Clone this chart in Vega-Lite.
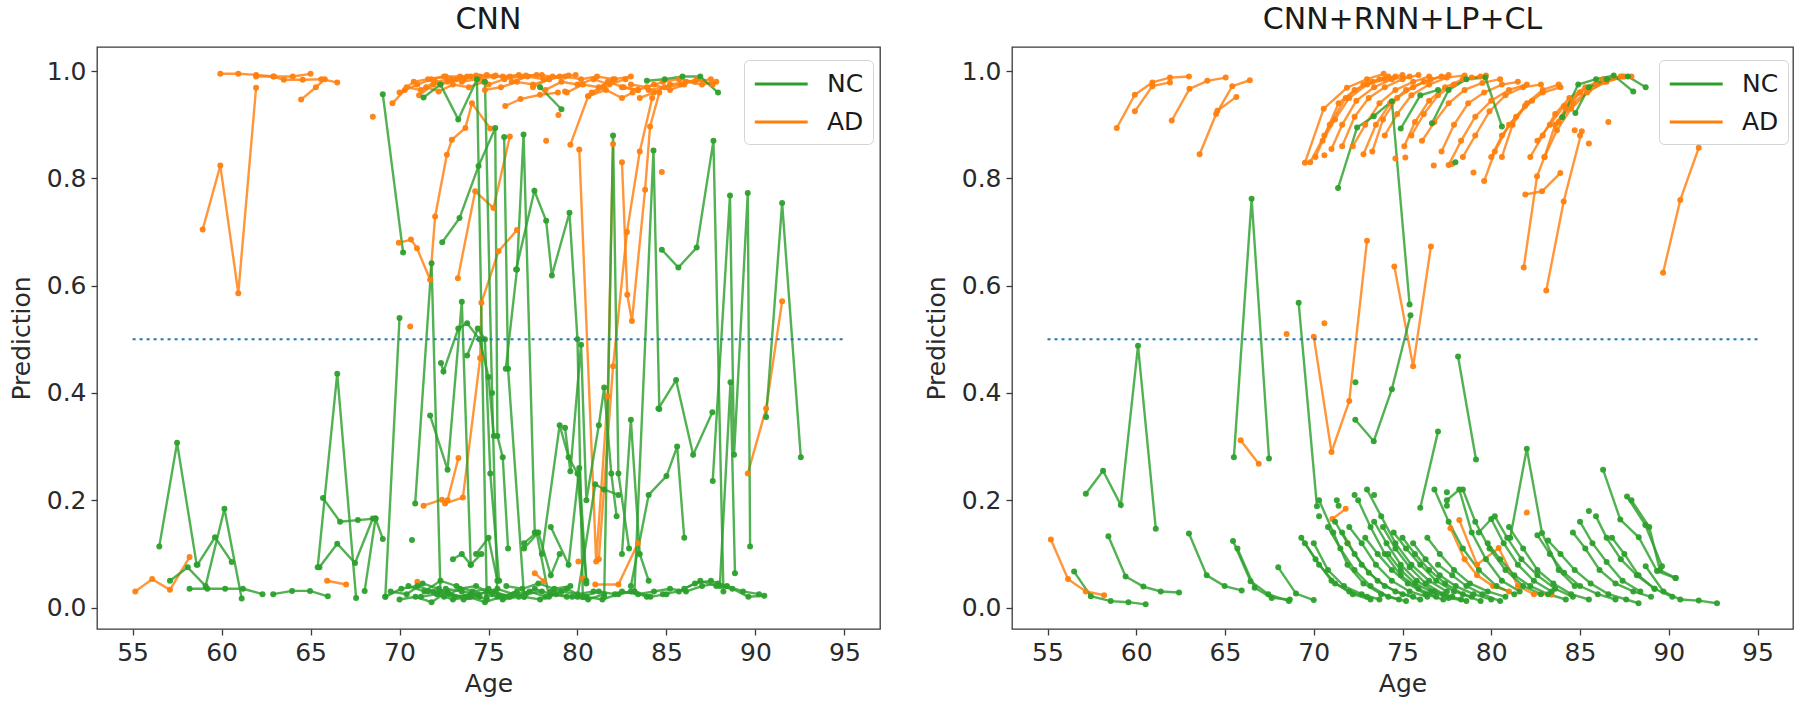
{
"$schema": "https://vega.github.io/schema/vega-lite/v6.json",
"background": "white",
"padding": {"left": 8, "top": 4, "right": 2, "bottom": 2},
"spacing": 42,
"config": {
  "font": "DejaVu Sans",
  "view": {"stroke": "#3a3a3a", "strokeWidth": 1.3},
  "axis": {"labelFontSize": 25, "titleFontSize": 25, "labelColor": "#2a2a2a", "titleColor": "#2a2a2a", "tickColor": "#3a3a3a", "tickWidth": 1.3, "domain": false, "grid": false, "tickSize": 6, "labelPadding": 5, "titleFontWeight": "normal", "labelFont": "DejaVu Sans", "titleFont": "DejaVu Sans"},
  "axisX": {"titlePadding": 6},
  "axisY": {"titlePadding": 12},
  "title": {"fontSize": 30, "fontWeight": "normal", "color": "#1a1a1a", "font": "DejaVu Sans", "offset": 12, "anchor": "middle"},
  "legend": {"orient": "none", "legendX": 647, "legendY": 13, "symbolType": "M-1,0H3", "symbolSize": 700, "symbolStrokeWidth": 3, "labelFontSize": 25, "labelFont": "DejaVu Sans", "labelColor": "#1a1a1a", "fillColor": "white", "strokeColor": "#d4d4d4", "cornerRadius": 5, "padding": 9, "rowPadding": 10, "labelOffset": 44, "symbolOpacity": 1}
},
"resolve": {"legend": {"color": "independent"}, "scale": {"color": "independent"}},
"datasets": {
"cnn": [
{"s":"a1","g":"AD","x":58.94,"y":0.705},{"s":"a1","g":"AD","x":59.93,"y":0.824},{"s":"a1","g":"AD","x":60.94,"y":0.586},{"s":"a1","g":"AD","x":61.94,"y":0.969},
{"s":"a2","g":"AD","x":59.93,"y":0.995},{"s":"a2","g":"AD","x":60.94,"y":0.995},{"s":"a2","g":"AD","x":61.94,"y":0.993},{"s":"a2","g":"AD","x":62.95,"y":0.99},{"s":"a2","g":"AD","x":64.0,"y":0.99},{"s":"a2","g":"AD","x":65.0,"y":0.995},
{"s":"a3","g":"AD","x":61.94,"y":0.99},{"s":"a3","g":"AD","x":62.9,"y":0.99},{"s":"a3","g":"AD","x":63.5,"y":0.984},{"s":"a3","g":"AD","x":64.56,"y":0.984},{"s":"a3","g":"AD","x":65.6,"y":0.985},{"s":"a3","g":"AD","x":66.5,"y":0.979},
{"s":"a4","g":"AD","x":64.47,"y":0.947},{"s":"a4","g":"AD","x":65.3,"y":0.97},{"s":"a4","g":"AD","x":65.8,"y":0.985},
{"s":"a5","g":"AD","x":55.15,"y":0.03},{"s":"a5","g":"AD","x":56.1,"y":0.053},{"s":"a5","g":"AD","x":57.1,"y":0.033},{"s":"a5","g":"AD","x":58.2,"y":0.094},
{"s":"a6","g":"AD","x":65.93,"y":0.05},{"s":"a6","g":"AD","x":67.0,"y":0.043},
{"s":"a7","g":"AD","x":68.5,"y":0.915},
{"s":"a8","g":"AD","x":70.6,"y":0.524},
{"s":"a9","g":"AD","x":69.96,"y":0.68},{"s":"a9","g":"AD","x":70.64,"y":0.686},{"s":"a9","g":"AD","x":70.98,"y":0.67},{"s":"a9","g":"AD","x":71.72,"y":0.611},{"s":"a9","g":"AD","x":72.0,"y":0.729},{"s":"a9","g":"AD","x":72.66,"y":0.844},{"s":"a9","g":"AD","x":72.94,"y":0.872},{"s":"a9","g":"AD","x":73.7,"y":0.894},{"s":"a9","g":"AD","x":74.07,"y":0.94},{"s":"a9","g":"AD","x":75.1,"y":0.893},
{"s":"a10","g":"AD","x":73.28,"y":0.614},{"s":"a10","g":"AD","x":74.25,"y":0.776},{"s":"a10","g":"AD","x":75.28,"y":0.745},{"s":"a10","g":"AD","x":76.2,"y":0.878},
{"s":"a11","g":"AD","x":71.35,"y":0.19},{"s":"a11","g":"AD","x":72.38,"y":0.201},{"s":"a11","g":"AD","x":72.56,"y":0.194},{"s":"a11","g":"AD","x":73.56,"y":0.205},{"s":"a11","g":"AD","x":74.53,"y":0.465},{"s":"a11","g":"AD","x":74.6,"y":0.568},{"s":"a11","g":"AD","x":75.56,"y":0.664},{"s":"a11","g":"AD","x":76.6,"y":0.704},
{"s":"a12","g":"AD","x":72.7,"y":0.2},{"s":"a12","g":"AD","x":73.31,"y":0.279},
{"s":"a13","g":"AD","x":80.1,"y":0.854},{"s":"a13","g":"AD","x":81.05,"y":0.086},{"s":"a13","g":"AD","x":81.7,"y":0.394},{"s":"a13","g":"AD","x":82.0,"y":0.864},
{"s":"a14","g":"AD","x":79.6,"y":0.863},{"s":"a14","g":"AD","x":80.6,"y":0.953},{"s":"a14","g":"AD","x":81.5,"y":0.97},
{"s":"a15","g":"AD","x":81.2,"y":0.09},{"s":"a15","g":"AD","x":82.0,"y":0.45},{"s":"a15","g":"AD","x":82.78,"y":0.7},{"s":"a15","g":"AD","x":83.5,"y":0.85},{"s":"a15","g":"AD","x":84.2,"y":0.95},
{"s":"a16","g":"AD","x":82.5,"y":0.83},{"s":"a16","g":"AD","x":82.8,"y":0.583},{"s":"a16","g":"AD","x":83.06,"y":0.534},{"s":"a16","g":"AD","x":83.8,"y":0.779},{"s":"a16","g":"AD","x":84.08,"y":0.897},{"s":"a16","g":"AD","x":84.6,"y":0.96},
{"s":"a17","g":"AD","x":89.57,"y":0.25},{"s":"a17","g":"AD","x":90.6,"y":0.371},{"s":"a17","g":"AD","x":91.5,"y":0.571},
{"s":"a18","g":"AD","x":81.0,"y":0.043},{"s":"a18","g":"AD","x":82.3,"y":0.043},{"s":"a18","g":"AD","x":83.4,"y":0.12},
{"s":"a19","g":"AD","x":77.6,"y":0.064},{"s":"a19","g":"AD","x":78.1,"y":0.049},
{"s":"a20","g":"AD","x":71.0,"y":0.048},
{"s":"a21","g":"AD","x":80.05,"y":0.086},
{"s":"a22","g":"AD","x":80.3,"y":0.054},
{"s":"a23","g":"AD","x":78.24,"y":0.87},
{"s":"a24","g":"AD","x":78.93,"y":0.918},
{"s":"a25","g":"AD","x":84.74,"y":0.812},
{"s":"a26","g":"AD","x":79.3,"y":0.962},
{"s":"t1","g":"AD","x":69.6,"y":0.94},{"s":"t1","g":"AD","x":70.3,"y":0.965},{"s":"t1","g":"AD","x":71.0,"y":0.975},{"s":"t1","g":"AD","x":71.8,"y":0.985},{"s":"t1","g":"AD","x":72.6,"y":0.99},
{"s":"t2","g":"AD","x":70.0,"y":0.96},{"s":"t2","g":"AD","x":70.8,"y":0.98},{"s":"t2","g":"AD","x":71.6,"y":0.985},{"s":"t2","g":"AD","x":72.5,"y":0.99},{"s":"t2","g":"AD","x":73.4,"y":0.99},{"s":"t2","g":"AD","x":74.3,"y":0.992},
{"s":"t3","g":"AD","x":70.4,"y":0.97},{"s":"t3","g":"AD","x":71.2,"y":0.965},{"s":"t3","g":"AD","x":72.0,"y":0.98},{"s":"t3","g":"AD","x":72.9,"y":0.985},{"s":"t3","g":"AD","x":73.8,"y":0.99},
{"s":"t4","g":"AD","x":71.1,"y":0.955},{"s":"t4","g":"AD","x":71.9,"y":0.975},{"s":"t4","g":"AD","x":72.7,"y":0.98},{"s":"t4","g":"AD","x":73.6,"y":0.985},{"s":"t4","g":"AD","x":74.5,"y":0.99},{"s":"t4","g":"AD","x":75.4,"y":0.992},
{"s":"t5","g":"AD","x":72.3,"y":0.975},{"s":"t5","g":"AD","x":73.2,"y":0.985},{"s":"t5","g":"AD","x":74.0,"y":0.99},{"s":"t5","g":"AD","x":74.9,"y":0.993},{"s":"t5","g":"AD","x":75.8,"y":0.99},{"s":"t5","g":"AD","x":76.7,"y":0.993},
{"s":"t6","g":"AD","x":73.5,"y":0.98},{"s":"t6","g":"AD","x":74.4,"y":0.985},{"s":"t6","g":"AD","x":75.3,"y":0.99},{"s":"t6","g":"AD","x":76.2,"y":0.99},{"s":"t6","g":"AD","x":77.1,"y":0.992},{"s":"t6","g":"AD","x":78.0,"y":0.993},
{"s":"t7","g":"AD","x":75.0,"y":0.975},{"s":"t7","g":"AD","x":75.9,"y":0.985},{"s":"t7","g":"AD","x":76.8,"y":0.99},{"s":"t7","g":"AD","x":77.7,"y":0.993},{"s":"t7","g":"AD","x":78.6,"y":0.99},{"s":"t7","g":"AD","x":79.5,"y":0.992},
{"s":"t8","g":"AD","x":76.3,"y":0.98},{"s":"t8","g":"AD","x":77.2,"y":0.99},{"s":"t8","g":"AD","x":78.1,"y":0.985},{"s":"t8","g":"AD","x":79.0,"y":0.99},{"s":"t8","g":"AD","x":79.9,"y":0.993},
{"s":"t9","g":"AD","x":77.5,"y":0.97},{"s":"t9","g":"AD","x":78.4,"y":0.985},{"s":"t9","g":"AD","x":79.3,"y":0.99},{"s":"t9","g":"AD","x":80.2,"y":0.985},{"s":"t9","g":"AD","x":81.1,"y":0.99},{"s":"t9","g":"AD","x":82.0,"y":0.985},
{"s":"t10","g":"AD","x":78.2,"y":0.965},{"s":"t10","g":"AD","x":79.1,"y":0.98},{"s":"t10","g":"AD","x":80.0,"y":0.975},{"s":"t10","g":"AD","x":80.9,"y":0.985},{"s":"t10","g":"AD","x":81.8,"y":0.975},{"s":"t10","g":"AD","x":82.7,"y":0.985},
{"s":"t11","g":"AD","x":79.4,"y":0.96},{"s":"t11","g":"AD","x":80.3,"y":0.975},{"s":"t11","g":"AD","x":81.2,"y":0.97},{"s":"t11","g":"AD","x":82.1,"y":0.985},{"s":"t11","g":"AD","x":83.0,"y":0.99},
{"s":"t12","g":"AD","x":74.8,"y":0.965},{"s":"t12","g":"AD","x":75.7,"y":0.97},{"s":"t12","g":"AD","x":76.6,"y":0.98},{"s":"t12","g":"AD","x":77.5,"y":0.975},{"s":"t12","g":"AD","x":78.4,"y":0.985},
{"s":"t13","g":"AD","x":71.5,"y":0.97},{"s":"t13","g":"AD","x":72.2,"y":0.962},{"s":"t13","g":"AD","x":73.0,"y":0.975},{"s":"t13","g":"AD","x":73.9,"y":0.97},{"s":"t13","g":"AD","x":74.7,"y":0.98},
{"s":"t14","g":"AD","x":80.8,"y":0.96},{"s":"t14","g":"AD","x":81.7,"y":0.98},{"s":"t14","g":"AD","x":82.6,"y":0.97},{"s":"t14","g":"AD","x":83.4,"y":0.965},
{"s":"t15","g":"AD","x":75.94,"y":0.935},{"s":"t15","g":"AD","x":76.8,"y":0.948},{"s":"t15","g":"AD","x":77.9,"y":0.956},{"s":"t15","g":"AD","x":78.9,"y":0.96},
{"s":"t16","g":"AD","x":80.6,"y":0.953},{"s":"t16","g":"AD","x":81.6,"y":0.965},{"s":"t16","g":"AD","x":82.5,"y":0.95},{"s":"t16","g":"AD","x":83.1,"y":0.96},
{"s":"u1","g":"AD","x":83.0,"y":0.975},{"s":"u1","g":"AD","x":83.9,"y":0.97},{"s":"u1","g":"AD","x":84.8,"y":0.98},{"s":"u1","g":"AD","x":85.7,"y":0.985},{"s":"u1","g":"AD","x":86.6,"y":0.98},{"s":"u1","g":"AD","x":87.5,"y":0.985},
{"s":"u2","g":"AD","x":83.5,"y":0.95},{"s":"u2","g":"AD","x":84.3,"y":0.96},{"s":"u2","g":"AD","x":85.2,"y":0.975},{"s":"u2","g":"AD","x":86.1,"y":0.98},{"s":"u2","g":"AD","x":87.0,"y":0.975},{"s":"u2","g":"AD","x":87.8,"y":0.98},
{"s":"u3","g":"AD","x":84.0,"y":0.965},{"s":"u3","g":"AD","x":84.9,"y":0.97},{"s":"u3","g":"AD","x":85.8,"y":0.975},{"s":"u3","g":"AD","x":86.7,"y":0.985},{"s":"u3","g":"AD","x":87.6,"y":0.975},
{"s":"u4","g":"AD","x":82.5,"y":0.97},{"s":"u4","g":"AD","x":83.4,"y":0.965},{"s":"u4","g":"AD","x":84.3,"y":0.975},{"s":"u4","g":"AD","x":85.2,"y":0.965},{"s":"u4","g":"AD","x":86.0,"y":0.975},
{"s":"g1","g":"NC","x":56.5,"y":0.114},{"s":"g1","g":"NC","x":57.5,"y":0.307},{"s":"g1","g":"NC","x":58.6,"y":0.08},
{"s":"g2","g":"NC","x":57.1,"y":0.05},{"s":"g2","g":"NC","x":58.1,"y":0.075},{"s":"g2","g":"NC","x":59.1,"y":0.04},{"s":"g2","g":"NC","x":60.16,"y":0.184},{"s":"g2","g":"NC","x":61.13,"y":0.017},
{"s":"g3","g":"NC","x":58.2,"y":0.035},{"s":"g3","g":"NC","x":59.2,"y":0.035},{"s":"g3","g":"NC","x":60.2,"y":0.035},{"s":"g3","g":"NC","x":61.2,"y":0.035},{"s":"g3","g":"NC","x":62.3,"y":0.025},
{"s":"g4","g":"NC","x":58.65,"y":0.08},{"s":"g4","g":"NC","x":59.63,"y":0.131},{"s":"g4","g":"NC","x":60.57,"y":0.085},
{"s":"g5","g":"NC","x":62.9,"y":0.025},{"s":"g5","g":"NC","x":63.96,"y":0.031},{"s":"g5","g":"NC","x":64.97,"y":0.031},{"s":"g5","g":"NC","x":65.97,"y":0.021},
{"s":"g6","g":"NC","x":65.7,"y":0.204},{"s":"g6","g":"NC","x":66.66,"y":0.16},{"s":"g6","g":"NC","x":67.66,"y":0.163},{"s":"g6","g":"NC","x":68.65,"y":0.166},{"s":"g6","g":"NC","x":69.06,"y":0.128},
{"s":"g7","g":"NC","x":65.4,"y":0.075},{"s":"g7","g":"NC","x":66.5,"y":0.436},{"s":"g7","g":"NC","x":67.56,"y":0.018},
{"s":"g8","g":"NC","x":65.5,"y":0.075},{"s":"g8","g":"NC","x":66.5,"y":0.119},{"s":"g8","g":"NC","x":67.5,"y":0.083},{"s":"g8","g":"NC","x":68.5,"y":0.166},
{"s":"g9","g":"NC","x":68.04,"y":0.031},{"s":"g9","g":"NC","x":68.65,"y":0.166},
{"s":"g10","g":"NC","x":69.06,"y":0.957},{"s":"g10","g":"NC","x":70.2,"y":0.662},
{"s":"g11","g":"NC","x":69.2,"y":0.02},{"s":"g11","g":"NC","x":70.0,"y":0.54},
{"s":"g12","g":"NC","x":70.7,"y":0.126},
{"s":"g13","g":"NC","x":70.88,"y":0.194},{"s":"g13","g":"NC","x":71.8,"y":0.642},{"s":"g13","g":"NC","x":72.3,"y":0.03},
{"s":"g14","g":"NC","x":71.35,"y":0.951},{"s":"g14","g":"NC","x":72.3,"y":0.975},{"s":"g14","g":"NC","x":73.3,"y":0.91},{"s":"g14","g":"NC","x":74.35,"y":0.985},{"s":"g14","g":"NC","x":74.9,"y":0.02},
{"s":"g15","g":"NC","x":72.4,"y":0.681},{"s":"g15","g":"NC","x":73.37,"y":0.726},{"s":"g15","g":"NC","x":74.44,"y":0.823},{"s":"g15","g":"NC","x":75.38,"y":0.894},{"s":"g15","g":"NC","x":75.5,"y":0.32},{"s":"g15","g":"NC","x":75.8,"y":0.28},{"s":"g15","g":"NC","x":76.1,"y":0.11},
{"s":"g16","g":"NC","x":71.72,"y":0.358},{"s":"g16","g":"NC","x":72.7,"y":0.257},{"s":"g16","g":"NC","x":73.5,"y":0.57},{"s":"g16","g":"NC","x":74.0,"y":0.08},
{"s":"g17","g":"NC","x":72.33,"y":0.456},{"s":"g17","g":"NC","x":72.47,"y":0.44},{"s":"g17","g":"NC","x":73.3,"y":0.52},{"s":"g17","g":"NC","x":73.8,"y":0.53},{"s":"g17","g":"NC","x":74.5,"y":0.5},{"s":"g17","g":"NC","x":75.0,"y":0.43},{"s":"g17","g":"NC","x":75.3,"y":0.32},
{"s":"g18","g":"NC","x":75.88,"y":0.877},{"s":"g18","g":"NC","x":76.1,"y":0.445},{"s":"g18","g":"NC","x":77.0,"y":0.02},
{"s":"g19","g":"NC","x":75.97,"y":0.445},{"s":"g19","g":"NC","x":76.6,"y":0.63},{"s":"g19","g":"NC","x":76.97,"y":0.882},{"s":"g19","g":"NC","x":77.6,"y":0.14},
{"s":"g20","g":"NC","x":76.55,"y":0.63},{"s":"g20","g":"NC","x":77.58,"y":0.777},{"s":"g20","g":"NC","x":78.24,"y":0.721},{"s":"g20","g":"NC","x":78.56,"y":0.619},{"s":"g20","g":"NC","x":79.55,"y":0.736},{"s":"g20","g":"NC","x":80.0,"y":0.5},{"s":"g20","g":"NC","x":80.3,"y":0.02},
{"s":"g21","g":"NC","x":77.0,"y":0.12},{"s":"g21","g":"NC","x":77.7,"y":0.14},{"s":"g21","g":"NC","x":78.4,"y":0.02},
{"s":"g22","g":"NC","x":79.3,"y":0.335},{"s":"g22","g":"NC","x":79.6,"y":0.254},{"s":"g22","g":"NC","x":80.2,"y":0.49},{"s":"g22","g":"NC","x":80.5,"y":0.2},{"s":"g22","g":"NC","x":81.2,"y":0.34},{"s":"g22","g":"NC","x":81.5,"y":0.41},{"s":"g22","g":"NC","x":81.9,"y":0.25},{"s":"g22","g":"NC","x":82.2,"y":0.17},
{"s":"g23","g":"NC","x":81.5,"y":0.02},{"s":"g23","g":"NC","x":82.0,"y":0.88},{"s":"g23","g":"NC","x":82.3,"y":0.25},{"s":"g23","g":"NC","x":82.9,"y":0.11},
{"s":"g24","g":"NC","x":83.2,"y":0.03},{"s":"g24","g":"NC","x":84.27,"y":0.852},{"s":"g24","g":"NC","x":84.6,"y":0.37},
{"s":"g25","g":"NC","x":84.74,"y":0.667},{"s":"g25","g":"NC","x":85.67,"y":0.634},{"s":"g25","g":"NC","x":86.7,"y":0.671},{"s":"g25","g":"NC","x":87.64,"y":0.87},{"s":"g25","g":"NC","x":88.2,"y":0.03},
{"s":"g26","g":"NC","x":84.55,"y":0.371},{"s":"g26","g":"NC","x":85.54,"y":0.424},{"s":"g26","g":"NC","x":86.5,"y":0.285},{"s":"g26","g":"NC","x":87.58,"y":0.364},
{"s":"g27","g":"NC","x":87.6,"y":0.236},{"s":"g27","g":"NC","x":88.57,"y":0.768},{"s":"g27","g":"NC","x":88.8,"y":0.285},{"s":"g27","g":"NC","x":89.57,"y":0.773},{"s":"g27","g":"NC","x":89.7,"y":0.114},
{"s":"g28","g":"NC","x":88.0,"y":0.04},{"s":"g28","g":"NC","x":88.6,"y":0.42},{"s":"g28","g":"NC","x":88.85,"y":0.064},
{"s":"g29","g":"NC","x":90.6,"y":0.355},{"s":"g29","g":"NC","x":91.5,"y":0.754},{"s":"g29","g":"NC","x":92.55,"y":0.28},
{"s":"g30","g":"NC","x":83.0,"y":0.04},{"s":"g30","g":"NC","x":84.0,"y":0.21},{"s":"g30","g":"NC","x":85.0,"y":0.245},{"s":"g30","g":"NC","x":85.6,"y":0.3},{"s":"g30","g":"NC","x":86.0,"y":0.13},
{"s":"g31","g":"NC","x":80.0,"y":0.02},{"s":"g31","g":"NC","x":81.0,"y":0.23},{"s":"g31","g":"NC","x":81.5,"y":0.22},{"s":"g31","g":"NC","x":82.3,"y":0.21},
{"s":"g32","g":"NC","x":78.0,"y":0.1},{"s":"g32","g":"NC","x":79.0,"y":0.34},{"s":"g32","g":"NC","x":79.5,"y":0.28},{"s":"g32","g":"NC","x":80.0,"y":0.25},{"s":"g32","g":"NC","x":80.5,"y":0.05},
{"s":"g33","g":"NC","x":74.3,"y":0.1},{"s":"g33","g":"NC","x":75.0,"y":0.13},{"s":"g33","g":"NC","x":75.5,"y":0.05},
{"s":"g34","g":"NC","x":73.0,"y":0.09},{"s":"g34","g":"NC","x":73.5,"y":0.1},{"s":"g34","g":"NC","x":74.0,"y":0.08},{"s":"g34","g":"NC","x":74.6,"y":0.1},
{"s":"g35","g":"NC","x":77.9,"y":0.97},{"s":"g35","g":"NC","x":79.1,"y":0.929},
{"s":"g36","g":"NC","x":83.9,"y":0.982},{"s":"g36","g":"NC","x":84.9,"y":0.985},{"s":"g36","g":"NC","x":85.9,"y":0.99},{"s":"g36","g":"NC","x":86.9,"y":0.99},{"s":"g36","g":"NC","x":87.9,"y":0.96},
{"s":"g38","g":"NC","x":74.8,"y":0.98},{"s":"g38","g":"NC","x":75.2,"y":0.4},{"s":"g38","g":"NC","x":75.5,"y":0.02},
{"s":"g39","g":"NC","x":73.8,"y":0.47},{"s":"g39","g":"NC","x":74.4,"y":0.52},{"s":"g39","g":"NC","x":74.8,"y":0.5},{"s":"g39","g":"NC","x":75.1,"y":0.25},{"s":"g39","g":"NC","x":75.6,"y":0.05},
{"s":"g40","g":"NC","x":78.5,"y":0.15},{"s":"g40","g":"NC","x":79.5,"y":0.08},{"s":"g40","g":"NC","x":80.1,"y":0.26},{"s":"g40","g":"NC","x":80.5,"y":0.045},
{"s":"g41","g":"NC","x":77.0,"y":0.11},{"s":"g41","g":"NC","x":77.8,"y":0.14},{"s":"g41","g":"NC","x":78.5,"y":0.06},{"s":"g41","g":"NC","x":79.0,"y":0.1},
{"s":"g42","g":"NC","x":82.5,"y":0.1},{"s":"g42","g":"NC","x":83.0,"y":0.35},{"s":"g42","g":"NC","x":83.5,"y":0.1},{"s":"g42","g":"NC","x":84.0,"y":0.05},
{"s":"z1","g":"NC","x":69.2,"y":0.02},{"s":"z1","g":"NC","x":70.1,"y":0.035},{"s":"z1","g":"NC","x":71.0,"y":0.04},{"s":"z1","g":"NC","x":71.9,"y":0.03},{"s":"z1","g":"NC","x":72.8,"y":0.025},{"s":"z1","g":"NC","x":73.7,"y":0.02},
{"s":"z2","g":"NC","x":69.5,"y":0.03},{"s":"z2","g":"NC","x":70.4,"y":0.025},{"s":"z2","g":"NC","x":71.3,"y":0.045},{"s":"z2","g":"NC","x":72.2,"y":0.035},{"s":"z2","g":"NC","x":73.1,"y":0.02},{"s":"z2","g":"NC","x":74.0,"y":0.025},{"s":"z2","g":"NC","x":74.9,"y":0.015},
{"s":"z3","g":"NC","x":70.0,"y":0.015},{"s":"z3","g":"NC","x":70.9,"y":0.02},{"s":"z3","g":"NC","x":71.8,"y":0.01},{"s":"z3","g":"NC","x":72.7,"y":0.03},{"s":"z3","g":"NC","x":73.6,"y":0.015},{"s":"z3","g":"NC","x":74.5,"y":0.02},
{"s":"z4","g":"NC","x":70.5,"y":0.04},{"s":"z4","g":"NC","x":71.4,"y":0.03},{"s":"z4","g":"NC","x":72.3,"y":0.05},{"s":"z4","g":"NC","x":73.2,"y":0.04},{"s":"z4","g":"NC","x":74.1,"y":0.03},{"s":"z4","g":"NC","x":75.0,"y":0.035},{"s":"z4","g":"NC","x":75.9,"y":0.02},
{"s":"z5","g":"NC","x":71.2,"y":0.02},{"s":"z5","g":"NC","x":72.1,"y":0.025},{"s":"z5","g":"NC","x":73.0,"y":0.015},{"s":"z5","g":"NC","x":73.9,"y":0.02},{"s":"z5","g":"NC","x":74.8,"y":0.01},{"s":"z5","g":"NC","x":75.7,"y":0.02},{"s":"z5","g":"NC","x":76.6,"y":0.03},
{"s":"z6","g":"NC","x":72.6,"y":0.035},{"s":"z6","g":"NC","x":73.5,"y":0.03},{"s":"z6","g":"NC","x":74.4,"y":0.025},{"s":"z6","g":"NC","x":75.3,"y":0.03},{"s":"z6","g":"NC","x":76.2,"y":0.02},{"s":"z6","g":"NC","x":77.1,"y":0.025},{"s":"z6","g":"NC","x":78.0,"y":0.03},
{"s":"z7","g":"NC","x":74.0,"y":0.02},{"s":"z7","g":"NC","x":74.9,"y":0.03},{"s":"z7","g":"NC","x":75.8,"y":0.015},{"s":"z7","g":"NC","x":76.7,"y":0.02},{"s":"z7","g":"NC","x":77.6,"y":0.035},{"s":"z7","g":"NC","x":78.5,"y":0.025},{"s":"z7","g":"NC","x":79.4,"y":0.02},
{"s":"z8","g":"NC","x":75.5,"y":0.035},{"s":"z8","g":"NC","x":76.4,"y":0.025},{"s":"z8","g":"NC","x":77.3,"y":0.03},{"s":"z8","g":"NC","x":78.2,"y":0.02},{"s":"z8","g":"NC","x":79.1,"y":0.03},{"s":"z8","g":"NC","x":80.0,"y":0.025},{"s":"z8","g":"NC","x":80.9,"y":0.03},
{"s":"z9","g":"NC","x":77.0,"y":0.02},{"s":"z9","g":"NC","x":77.9,"y":0.015},{"s":"z9","g":"NC","x":78.8,"y":0.025},{"s":"z9","g":"NC","x":79.7,"y":0.02},{"s":"z9","g":"NC","x":80.6,"y":0.015},{"s":"z9","g":"NC","x":81.5,"y":0.025},
{"s":"z10","g":"NC","x":78.5,"y":0.03},{"s":"z10","g":"NC","x":79.4,"y":0.035},{"s":"z10","g":"NC","x":80.3,"y":0.02},{"s":"z10","g":"NC","x":81.2,"y":0.03},{"s":"z10","g":"NC","x":82.1,"y":0.025},{"s":"z10","g":"NC","x":83.0,"y":0.03},{"s":"z10","g":"NC","x":83.9,"y":0.02},
{"s":"z11","g":"NC","x":80.5,"y":0.02},{"s":"z11","g":"NC","x":81.4,"y":0.015},{"s":"z11","g":"NC","x":82.3,"y":0.025},{"s":"z11","g":"NC","x":83.2,"y":0.03},{"s":"z11","g":"NC","x":84.1,"y":0.02},{"s":"z11","g":"NC","x":85.0,"y":0.025},
{"s":"z12","g":"NC","x":82.5,"y":0.03},{"s":"z12","g":"NC","x":83.4,"y":0.025},{"s":"z12","g":"NC","x":84.3,"y":0.03},{"s":"z12","g":"NC","x":85.2,"y":0.035},{"s":"z12","g":"NC","x":86.1,"y":0.03},{"s":"z12","g":"NC","x":87.0,"y":0.04},{"s":"z12","g":"NC","x":87.9,"y":0.045},
{"s":"z13","g":"NC","x":84.8,"y":0.025},{"s":"z13","g":"NC","x":85.7,"y":0.03},{"s":"z13","g":"NC","x":86.6,"y":0.045},{"s":"z13","g":"NC","x":87.5,"y":0.05},{"s":"z13","g":"NC","x":88.4,"y":0.04},{"s":"z13","g":"NC","x":89.3,"y":0.03},{"s":"z13","g":"NC","x":90.2,"y":0.025},
{"s":"z14","g":"NC","x":86.0,"y":0.035},{"s":"z14","g":"NC","x":86.9,"y":0.05},{"s":"z14","g":"NC","x":87.8,"y":0.04},{"s":"z14","g":"NC","x":88.7,"y":0.035},{"s":"z14","g":"NC","x":89.6,"y":0.02},{"s":"z14","g":"NC","x":90.5,"y":0.022},
{"s":"z15","g":"NC","x":71.6,"y":0.03},{"s":"z15","g":"NC","x":72.5,"y":0.02},{"s":"z15","g":"NC","x":73.4,"y":0.035},{"s":"z15","g":"NC","x":74.3,"y":0.04},{"s":"z15","g":"NC","x":75.2,"y":0.025},
{"s":"z16","g":"NC","x":76.0,"y":0.04},{"s":"z16","g":"NC","x":76.9,"y":0.035},{"s":"z16","g":"NC","x":77.8,"y":0.045},{"s":"z16","g":"NC","x":78.7,"y":0.035},{"s":"z16","g":"NC","x":79.6,"y":0.04}
],
"full": [
{"s":"b1","g":"AD","x":58.9,"y":0.894},{"s":"b1","g":"AD","x":59.92,"y":0.956},{"s":"b1","g":"AD","x":60.91,"y":0.979},{"s":"b1","g":"AD","x":61.9,"y":0.988},{"s":"b1","g":"AD","x":62.97,"y":0.99},
{"s":"b2","g":"AD","x":59.92,"y":0.925},{"s":"b2","g":"AD","x":60.91,"y":0.972},{"s":"b2","g":"AD","x":61.9,"y":0.979},
{"s":"b3","g":"AD","x":62.0,"y":0.908},{"s":"b3","g":"AD","x":63.0,"y":0.967},{"s":"b3","g":"AD","x":64.0,"y":0.982},{"s":"b3","g":"AD","x":65.04,"y":0.988},
{"s":"b4","g":"AD","x":63.57,"y":0.845},{"s":"b4","g":"AD","x":64.5,"y":0.92},{"s":"b4","g":"AD","x":65.41,"y":0.972},{"s":"b4","g":"AD","x":66.4,"y":0.983},
{"s":"b5","g":"AD","x":64.57,"y":0.926},{"s":"b5","g":"AD","x":65.64,"y":0.952},
{"s":"b6","g":"AD","x":55.19,"y":0.127},{"s":"b6","g":"AD","x":56.16,"y":0.053},{"s":"b6","g":"AD","x":57.16,"y":0.03},{"s":"b6","g":"AD","x":58.19,"y":0.023},
{"s":"b7","g":"AD","x":65.88,"y":0.312},{"s":"b7","g":"AD","x":66.9,"y":0.268},
{"s":"b8","g":"AD","x":68.47,"y":0.51},
{"s":"b9","g":"AD","x":70.0,"y":0.505},{"s":"b9","g":"AD","x":71.0,"y":0.29},{"s":"b9","g":"AD","x":72.0,"y":0.385},{"s":"b9","g":"AD","x":73.0,"y":0.684},
{"s":"b10","g":"AD","x":74.54,"y":0.636},{"s":"b10","g":"AD","x":75.6,"y":0.45},{"s":"b10","g":"AD","x":76.6,"y":0.673},
{"s":"b11","g":"AD","x":70.6,"y":0.53},
{"s":"b12","g":"AD","x":81.83,"y":0.634},{"s":"b12","g":"AD","x":82.58,"y":0.804},{"s":"b12","g":"AD","x":83.0,"y":0.84},{"s":"b12","g":"AD","x":83.6,"y":0.9},{"s":"b12","g":"AD","x":84.2,"y":0.93},{"s":"b12","g":"AD","x":85.0,"y":0.96},
{"s":"b13","g":"AD","x":81.92,"y":0.77},{"s":"b13","g":"AD","x":82.86,"y":0.776},{"s":"b13","g":"AD","x":83.89,"y":0.81},
{"s":"b14","g":"AD","x":83.1,"y":0.591},{"s":"b14","g":"AD","x":84.08,"y":0.757},{"s":"b14","g":"AD","x":85.1,"y":0.888},
{"s":"b15","g":"AD","x":89.68,"y":0.624},{"s":"b15","g":"AD","x":90.65,"y":0.76},{"s":"b15","g":"AD","x":91.69,"y":0.857},
{"s":"b16","g":"AD","x":77.7,"y":0.148},{"s":"b16","g":"AD","x":78.5,"y":0.09},{"s":"b16","g":"AD","x":79.2,"y":0.06},{"s":"b16","g":"AD","x":80.1,"y":0.04},{"s":"b16","g":"AD","x":81.0,"y":0.03},
{"s":"b17","g":"AD","x":78.2,"y":0.163},{"s":"b17","g":"AD","x":79.2,"y":0.08},{"s":"b17","g":"AD","x":80.42,"y":0.111},{"s":"b17","g":"AD","x":81.5,"y":0.04},{"s":"b17","g":"AD","x":82.4,"y":0.025},{"s":"b17","g":"AD","x":83.4,"y":0.024},
{"s":"b18","g":"AD","x":82.0,"y":0.177},
{"s":"b19","g":"AD","x":71.05,"y":0.165},{"s":"b19","g":"AD","x":71.8,"y":0.184},
{"s":"b20","g":"AD","x":71.9,"y":0.12},
{"s":"f1","g":"AD","x":69.5,"y":0.829},{"s":"f1","g":"AD","x":70.56,"y":0.93},{"s":"f1","g":"AD","x":71.87,"y":0.969},{"s":"f1","g":"AD","x":73.0,"y":0.985},{"s":"f1","g":"AD","x":73.94,"y":0.995},
{"s":"f2","g":"AD","x":69.8,"y":0.83},{"s":"f2","g":"AD","x":70.6,"y":0.88},{"s":"f2","g":"AD","x":71.4,"y":0.94},{"s":"f2","g":"AD","x":72.3,"y":0.965},{"s":"f2","g":"AD","x":73.3,"y":0.98},{"s":"f2","g":"AD","x":74.2,"y":0.99},
{"s":"f3","g":"AD","x":70.1,"y":0.84},{"s":"f3","g":"AD","x":70.9,"y":0.9},{"s":"f3","g":"AD","x":71.8,"y":0.95},{"s":"f3","g":"AD","x":72.8,"y":0.975},{"s":"f3","g":"AD","x":73.7,"y":0.985},{"s":"f3","g":"AD","x":74.6,"y":0.99},
{"s":"f4","g":"AD","x":70.5,"y":0.87},{"s":"f4","g":"AD","x":71.2,"y":0.91},{"s":"f4","g":"AD","x":72.0,"y":0.95},{"s":"f4","g":"AD","x":73.0,"y":0.975},{"s":"f4","g":"AD","x":74.0,"y":0.985},{"s":"f4","g":"AD","x":75.0,"y":0.993},
{"s":"f5","g":"AD","x":71.0,"y":0.855},{"s":"f5","g":"AD","x":71.6,"y":0.9},{"s":"f5","g":"AD","x":72.4,"y":0.945},{"s":"f5","g":"AD","x":73.4,"y":0.97},{"s":"f5","g":"AD","x":74.4,"y":0.985},{"s":"f5","g":"AD","x":75.4,"y":0.99},
{"s":"f6","g":"AD","x":71.6,"y":0.86},{"s":"f6","g":"AD","x":72.3,"y":0.915},{"s":"f6","g":"AD","x":73.1,"y":0.95},{"s":"f6","g":"AD","x":74.0,"y":0.97},{"s":"f6","g":"AD","x":75.0,"y":0.985},{"s":"f6","g":"AD","x":75.9,"y":0.993},
{"s":"f7","g":"AD","x":72.2,"y":0.86},{"s":"f7","g":"AD","x":72.9,"y":0.9},{"s":"f7","g":"AD","x":73.7,"y":0.94},{"s":"f7","g":"AD","x":74.6,"y":0.965},{"s":"f7","g":"AD","x":75.6,"y":0.98},{"s":"f7","g":"AD","x":76.5,"y":0.99},
{"s":"f8","g":"AD","x":72.8,"y":0.845},{"s":"f8","g":"AD","x":73.5,"y":0.9},{"s":"f8","g":"AD","x":74.3,"y":0.94},{"s":"f8","g":"AD","x":75.2,"y":0.965},{"s":"f8","g":"AD","x":76.2,"y":0.98},{"s":"f8","g":"AD","x":77.2,"y":0.99},
{"s":"f9","g":"AD","x":73.3,"y":0.85},{"s":"f9","g":"AD","x":73.9,"y":0.91},{"s":"f9","g":"AD","x":74.7,"y":0.95},{"s":"f9","g":"AD","x":75.6,"y":0.97},{"s":"f9","g":"AD","x":76.6,"y":0.985},{"s":"f9","g":"AD","x":77.6,"y":0.993},
{"s":"f10","g":"AD","x":74.0,"y":0.88},{"s":"f10","g":"AD","x":74.7,"y":0.92},{"s":"f10","g":"AD","x":75.5,"y":0.955},{"s":"f10","g":"AD","x":76.5,"y":0.975},{"s":"f10","g":"AD","x":77.5,"y":0.988},{"s":"f10","g":"AD","x":78.5,"y":0.992},
{"s":"f11","g":"AD","x":74.6,"y":0.837},
{"s":"f12","g":"AD","x":75.1,"y":0.86},{"s":"f12","g":"AD","x":75.7,"y":0.905},{"s":"f12","g":"AD","x":76.5,"y":0.945},{"s":"f12","g":"AD","x":77.4,"y":0.97},{"s":"f12","g":"AD","x":78.4,"y":0.985},{"s":"f12","g":"AD","x":79.4,"y":0.99},
{"s":"f13","g":"AD","x":75.5,"y":0.88},{"s":"f13","g":"AD","x":76.2,"y":0.92},{"s":"f13","g":"AD","x":77.0,"y":0.955},{"s":"f13","g":"AD","x":77.9,"y":0.975},{"s":"f13","g":"AD","x":78.9,"y":0.988},{"s":"f13","g":"AD","x":79.7,"y":0.992},
{"s":"f14","g":"AD","x":76.1,"y":0.87},{"s":"f14","g":"AD","x":76.8,"y":0.905},{"s":"f14","g":"AD","x":77.6,"y":0.94},{"s":"f14","g":"AD","x":78.5,"y":0.965},{"s":"f14","g":"AD","x":79.5,"y":0.978},{"s":"f14","g":"AD","x":80.5,"y":0.985},
{"s":"f15","g":"AD","x":77.2,"y":0.85},{"s":"f15","g":"AD","x":77.9,"y":0.9},{"s":"f15","g":"AD","x":78.7,"y":0.94},{"s":"f15","g":"AD","x":79.6,"y":0.96},{"s":"f15","g":"AD","x":80.6,"y":0.975},{"s":"f15","g":"AD","x":81.5,"y":0.98},
{"s":"f16","g":"AD","x":77.6,"y":0.825},{"s":"f16","g":"AD","x":78.3,"y":0.87},{"s":"f16","g":"AD","x":79.1,"y":0.915},{"s":"f16","g":"AD","x":80.0,"y":0.945},{"s":"f16","g":"AD","x":81.0,"y":0.965},{"s":"f16","g":"AD","x":82.0,"y":0.975},
{"s":"f17","g":"AD","x":78.4,"y":0.84},{"s":"f17","g":"AD","x":79.1,"y":0.88},{"s":"f17","g":"AD","x":79.9,"y":0.925},{"s":"f17","g":"AD","x":80.8,"y":0.955},{"s":"f17","g":"AD","x":81.8,"y":0.97},{"s":"f17","g":"AD","x":82.8,"y":0.975},
{"s":"f18","g":"AD","x":79.6,"y":0.795},{"s":"f18","g":"AD","x":80.2,"y":0.85},{"s":"f18","g":"AD","x":81.0,"y":0.9},{"s":"f18","g":"AD","x":81.9,"y":0.935},{"s":"f18","g":"AD","x":82.9,"y":0.96},{"s":"f18","g":"AD","x":83.9,"y":0.97},
{"s":"f19","g":"AD","x":80.0,"y":0.84},{"s":"f19","g":"AD","x":80.6,"y":0.88},{"s":"f19","g":"AD","x":81.4,"y":0.915},{"s":"f19","g":"AD","x":82.3,"y":0.945},
{"s":"f20","g":"AD","x":80.6,"y":0.84},{"s":"f20","g":"AD","x":81.2,"y":0.9},{"s":"f20","g":"AD","x":82.0,"y":0.94},{"s":"f20","g":"AD","x":82.9,"y":0.965},{"s":"f20","g":"AD","x":83.8,"y":0.975},
{"s":"fd1","g":"AD","x":75.16,"y":0.839},
{"s":"fd2","g":"AD","x":76.76,"y":0.824},
{"s":"fd3","g":"AD","x":77.79,"y":0.827},
{"s":"fd4","g":"AD","x":79.0,"y":0.811},
{"s":"fd5","g":"AD","x":70.6,"y":0.843},
{"s":"h1","g":"AD","x":82.2,"y":0.84},{"s":"h1","g":"AD","x":82.9,"y":0.88},{"s":"h1","g":"AD","x":83.6,"y":0.92},{"s":"h1","g":"AD","x":84.4,"y":0.95},{"s":"h1","g":"AD","x":85.3,"y":0.97},{"s":"h1","g":"AD","x":86.3,"y":0.985},{"s":"h1","g":"AD","x":87.3,"y":0.99},
{"s":"h2","g":"AD","x":82.6,"y":0.87},{"s":"h2","g":"AD","x":83.3,"y":0.9},{"s":"h2","g":"AD","x":84.1,"y":0.935},{"s":"h2","g":"AD","x":85.0,"y":0.96},{"s":"h2","g":"AD","x":85.9,"y":0.975},{"s":"h2","g":"AD","x":86.9,"y":0.988},{"s":"h2","g":"AD","x":87.9,"y":0.99},
{"s":"h3","g":"AD","x":83.0,"y":0.84},{"s":"h3","g":"AD","x":83.7,"y":0.89},{"s":"h3","g":"AD","x":84.5,"y":0.93},{"s":"h3","g":"AD","x":85.4,"y":0.96},{"s":"h3","g":"AD","x":86.4,"y":0.98},{"s":"h3","g":"AD","x":87.4,"y":0.99},
{"s":"h4","g":"AD","x":83.8,"y":0.905},{"s":"h4","g":"AD","x":84.6,"y":0.94},{"s":"h4","g":"AD","x":85.5,"y":0.965},{"s":"h4","g":"AD","x":86.5,"y":0.98},{"s":"h4","g":"AD","x":87.5,"y":0.99},
{"s":"hd1","g":"AD","x":84.7,"y":0.89},
{"s":"hd2","g":"AD","x":85.0,"y":0.88},
{"s":"hd3","g":"AD","x":85.5,"y":0.865},
{"s":"hd4","g":"AD","x":86.6,"y":0.905},
{"s":"c1","g":"NC","x":57.16,"y":0.212},{"s":"c1","g":"NC","x":58.13,"y":0.255},{"s":"c1","g":"NC","x":59.13,"y":0.191},{"s":"c1","g":"NC","x":60.1,"y":0.488},{"s":"c1","g":"NC","x":61.1,"y":0.147},
{"s":"c2","g":"NC","x":56.5,"y":0.067},{"s":"c2","g":"NC","x":57.44,"y":0.021},{"s":"c2","g":"NC","x":58.56,"y":0.012},{"s":"c2","g":"NC","x":59.56,"y":0.01},{"s":"c2","g":"NC","x":60.53,"y":0.006},
{"s":"c3","g":"NC","x":58.43,"y":0.133},{"s":"c3","g":"NC","x":59.4,"y":0.058},{"s":"c3","g":"NC","x":60.4,"y":0.039},{"s":"c3","g":"NC","x":61.38,"y":0.03},{"s":"c3","g":"NC","x":62.41,"y":0.028},
{"s":"c4","g":"NC","x":62.97,"y":0.138},{"s":"c4","g":"NC","x":63.97,"y":0.06},{"s":"c4","g":"NC","x":64.98,"y":0.04},{"s":"c4","g":"NC","x":65.94,"y":0.032},
{"s":"c5","g":"NC","x":65.45,"y":0.124},{"s":"c5","g":"NC","x":66.44,"y":0.049},{"s":"c5","g":"NC","x":67.44,"y":0.025},{"s":"c5","g":"NC","x":68.6,"y":0.012},
{"s":"c6","g":"NC","x":65.7,"y":0.11},{"s":"c6","g":"NC","x":66.67,"y":0.037},{"s":"c6","g":"NC","x":67.63,"y":0.018},{"s":"c6","g":"NC","x":68.65,"y":0.015},
{"s":"c7","g":"NC","x":65.5,"y":0.28},{"s":"c7","g":"NC","x":66.5,"y":0.762},{"s":"c7","g":"NC","x":67.48,"y":0.278},
{"s":"c8","g":"NC","x":68.0,"y":0.075},{"s":"c8","g":"NC","x":69.0,"y":0.026},{"s":"c8","g":"NC","x":70.0,"y":0.014},
{"s":"c9","g":"NC","x":69.15,"y":0.568},{"s":"c9","g":"NC","x":70.18,"y":0.189},
{"s":"c10","g":"NC","x":71.37,"y":0.782},{"s":"c10","g":"NC","x":72.44,"y":0.895},{"s":"c10","g":"NC","x":73.38,"y":0.916},{"s":"c10","g":"NC","x":74.4,"y":0.944},{"s":"c10","g":"NC","x":75.4,"y":0.565},
{"s":"c12","g":"NC","x":72.34,"y":0.35},{"s":"c12","g":"NC","x":73.38,"y":0.31},{"s":"c12","g":"NC","x":74.4,"y":0.407},{"s":"c12","g":"NC","x":75.45,"y":0.545},
{"s":"c13","g":"NC","x":72.35,"y":0.42},
{"s":"c14","g":"NC","x":74.9,"y":0.893},{"s":"c14","g":"NC","x":76.0,"y":0.955},{"s":"c14","g":"NC","x":77.0,"y":0.965},
{"s":"c15","g":"NC","x":76.66,"y":0.903},{"s":"c15","g":"NC","x":77.6,"y":0.965},{"s":"c15","g":"NC","x":78.6,"y":0.985},{"s":"c15","g":"NC","x":79.67,"y":0.988},{"s":"c15","g":"NC","x":80.6,"y":0.897},
{"s":"c16","g":"NC","x":77.98,"y":0.83},
{"s":"c17","g":"NC","x":76.0,"y":0.186},{"s":"c17","g":"NC","x":77.0,"y":0.328},
{"s":"c18","g":"NC","x":78.13,"y":0.468},{"s":"c18","g":"NC","x":79.14,"y":0.276},
{"s":"c19","g":"NC","x":84.0,"y":0.914},{"s":"c19","g":"NC","x":84.9,"y":0.975},{"s":"c19","g":"NC","x":85.9,"y":0.985},{"s":"c19","g":"NC","x":86.9,"y":0.992},{"s":"c19","g":"NC","x":88.0,"y":0.962},
{"s":"c20","g":"NC","x":84.74,"y":0.922},{"s":"c20","g":"NC","x":85.5,"y":0.97},{"s":"c20","g":"NC","x":86.5,"y":0.985},{"s":"c20","g":"NC","x":87.7,"y":0.99},{"s":"c20","g":"NC","x":88.7,"y":0.97},
{"s":"c21","g":"NC","x":81.07,"y":0.13},{"s":"c21","g":"NC","x":82.0,"y":0.296},{"s":"c21","g":"NC","x":82.86,"y":0.139},{"s":"c21","g":"NC","x":83.8,"y":0.07},{"s":"c21","g":"NC","x":84.7,"y":0.04},
{"s":"c22","g":"NC","x":86.3,"y":0.257},{"s":"c22","g":"NC","x":87.27,"y":0.164},{"s":"c22","g":"NC","x":88.31,"y":0.131},{"s":"c22","g":"NC","x":89.34,"y":0.068},{"s":"c22","g":"NC","x":90.37,"y":0.055},
{"s":"c23","g":"NC","x":87.65,"y":0.207},{"s":"c23","g":"NC","x":88.68,"y":0.154},{"s":"c23","g":"NC","x":89.62,"y":0.077},
{"s":"c24","g":"NC","x":88.7,"y":0.077},{"s":"c24","g":"NC","x":89.7,"y":0.03},{"s":"c24","g":"NC","x":90.65,"y":0.015},{"s":"c24","g":"NC","x":91.69,"y":0.013},{"s":"c24","g":"NC","x":92.72,"y":0.008},
{"s":"d1","g":"NC","x":69.3,"y":0.13},{"s":"d1","g":"NC","x":70.1,"y":0.09},{"s":"d1","g":"NC","x":71.0,"y":0.05},{"s":"d1","g":"NC","x":72.0,"y":0.03},{"s":"d1","g":"NC","x":73.0,"y":0.02},
{"s":"d2","g":"NC","x":69.5,"y":0.12},{"s":"d2","g":"NC","x":70.3,"y":0.08},{"s":"d2","g":"NC","x":71.2,"y":0.045},{"s":"d2","g":"NC","x":72.2,"y":0.025},{"s":"d2","g":"NC","x":73.2,"y":0.015},
{"s":"d3","g":"NC","x":70.3,"y":0.2},{"s":"d3","g":"NC","x":71.1,"y":0.14},{"s":"d3","g":"NC","x":71.9,"y":0.08},{"s":"d3","g":"NC","x":72.8,"y":0.045},{"s":"d3","g":"NC","x":73.8,"y":0.025},{"s":"d3","g":"NC","x":74.8,"y":0.015},
{"s":"d4","g":"NC","x":70.8,"y":0.15},{"s":"d4","g":"NC","x":71.5,"y":0.11},{"s":"d4","g":"NC","x":72.3,"y":0.07},{"s":"d4","g":"NC","x":73.2,"y":0.04},{"s":"d4","g":"NC","x":74.2,"y":0.02},{"s":"d4","g":"NC","x":75.2,"y":0.012},
{"s":"d5","g":"NC","x":71.2,"y":0.16},{"s":"d5","g":"NC","x":71.9,"y":0.12},{"s":"d5","g":"NC","x":72.7,"y":0.08},{"s":"d5","g":"NC","x":73.6,"y":0.05},{"s":"d5","g":"NC","x":74.6,"y":0.03},{"s":"d5","g":"NC","x":75.6,"y":0.02},
{"s":"d6","g":"NC","x":71.6,"y":0.14},{"s":"d6","g":"NC","x":72.3,"y":0.1},{"s":"d6","g":"NC","x":73.1,"y":0.065},{"s":"d6","g":"NC","x":74.0,"y":0.04},{"s":"d6","g":"NC","x":75.0,"y":0.025},{"s":"d6","g":"NC","x":76.0,"y":0.015},
{"s":"d7","g":"NC","x":72.0,"y":0.15},{"s":"d7","g":"NC","x":72.7,"y":0.12},{"s":"d7","g":"NC","x":73.5,"y":0.08},{"s":"d7","g":"NC","x":74.4,"y":0.05},{"s":"d7","g":"NC","x":75.4,"y":0.03},{"s":"d7","g":"NC","x":76.4,"y":0.02},
{"s":"d8","g":"NC","x":72.5,"y":0.2},{"s":"d8","g":"NC","x":73.2,"y":0.15},{"s":"d8","g":"NC","x":74.0,"y":0.1},{"s":"d8","g":"NC","x":74.9,"y":0.06},{"s":"d8","g":"NC","x":75.9,"y":0.035},{"s":"d8","g":"NC","x":76.9,"y":0.02},
{"s":"d9","g":"NC","x":72.9,"y":0.13},{"s":"d9","g":"NC","x":73.6,"y":0.1},{"s":"d9","g":"NC","x":74.4,"y":0.07},{"s":"d9","g":"NC","x":75.3,"y":0.045},{"s":"d9","g":"NC","x":76.3,"y":0.025},{"s":"d9","g":"NC","x":77.3,"y":0.015},
{"s":"d10","g":"NC","x":73.4,"y":0.16},{"s":"d10","g":"NC","x":74.1,"y":0.12},{"s":"d10","g":"NC","x":74.9,"y":0.08},{"s":"d10","g":"NC","x":75.8,"y":0.05},{"s":"d10","g":"NC","x":76.8,"y":0.03},{"s":"d10","g":"NC","x":77.8,"y":0.02},
{"s":"d11","g":"NC","x":73.9,"y":0.15},{"s":"d11","g":"NC","x":74.6,"y":0.11},{"s":"d11","g":"NC","x":75.4,"y":0.075},{"s":"d11","g":"NC","x":76.3,"y":0.045},{"s":"d11","g":"NC","x":77.3,"y":0.025},{"s":"d11","g":"NC","x":78.3,"y":0.015},
{"s":"d12","g":"NC","x":74.5,"y":0.14},{"s":"d12","g":"NC","x":75.2,"y":0.11},{"s":"d12","g":"NC","x":76.0,"y":0.08},{"s":"d12","g":"NC","x":76.9,"y":0.05},{"s":"d12","g":"NC","x":77.9,"y":0.03},{"s":"d12","g":"NC","x":78.9,"y":0.02},
{"s":"d13","g":"NC","x":75.0,"y":0.13},{"s":"d13","g":"NC","x":75.7,"y":0.1},{"s":"d13","g":"NC","x":76.5,"y":0.07},{"s":"d13","g":"NC","x":77.4,"y":0.045},{"s":"d13","g":"NC","x":78.4,"y":0.025},{"s":"d13","g":"NC","x":79.4,"y":0.012},
{"s":"d14","g":"NC","x":75.6,"y":0.12},{"s":"d14","g":"NC","x":76.3,"y":0.09},{"s":"d14","g":"NC","x":77.1,"y":0.06},{"s":"d14","g":"NC","x":78.0,"y":0.04},{"s":"d14","g":"NC","x":79.0,"y":0.025},{"s":"d14","g":"NC","x":80.0,"y":0.015},
{"s":"d15","g":"NC","x":76.4,"y":0.13},{"s":"d15","g":"NC","x":77.1,"y":0.1},{"s":"d15","g":"NC","x":77.9,"y":0.07},{"s":"d15","g":"NC","x":78.8,"y":0.045},{"s":"d15","g":"NC","x":79.8,"y":0.03},{"s":"d15","g":"NC","x":80.8,"y":0.02},
{"s":"d16","g":"NC","x":77.5,"y":0.2},{"s":"d16","g":"NC","x":78.2,"y":0.22},{"s":"d16","g":"NC","x":78.9,"y":0.14},{"s":"d16","g":"NC","x":79.7,"y":0.09},{"s":"d16","g":"NC","x":80.6,"y":0.05},{"s":"d16","g":"NC","x":81.6,"y":0.03},
{"s":"d17","g":"NC","x":78.4,"y":0.22},{"s":"d17","g":"NC","x":79.1,"y":0.16},{"s":"d17","g":"NC","x":79.9,"y":0.11},{"s":"d17","g":"NC","x":80.8,"y":0.07},{"s":"d17","g":"NC","x":81.8,"y":0.04},{"s":"d17","g":"NC","x":82.8,"y":0.025},
{"s":"d18","g":"NC","x":79.3,"y":0.14},{"s":"d18","g":"NC","x":80.0,"y":0.165},{"s":"d18","g":"NC","x":80.7,"y":0.12},{"s":"d18","g":"NC","x":81.5,"y":0.08},{"s":"d18","g":"NC","x":82.4,"y":0.05},{"s":"d18","g":"NC","x":83.4,"y":0.03},
{"s":"d19","g":"NC","x":80.2,"y":0.17},{"s":"d19","g":"NC","x":80.9,"y":0.13},{"s":"d19","g":"NC","x":81.7,"y":0.09},{"s":"d19","g":"NC","x":82.6,"y":0.06},{"s":"d19","g":"NC","x":83.6,"y":0.035},{"s":"d19","g":"NC","x":84.6,"y":0.02},
{"s":"d20","g":"NC","x":81.0,"y":0.15},{"s":"d20","g":"NC","x":81.8,"y":0.11},{"s":"d20","g":"NC","x":82.6,"y":0.07},{"s":"d20","g":"NC","x":83.5,"y":0.045},{"s":"d20","g":"NC","x":84.5,"y":0.025},{"s":"d20","g":"NC","x":85.5,"y":0.015},
{"s":"d21","g":"NC","x":82.6,"y":0.135},{"s":"d21","g":"NC","x":83.3,"y":0.1},{"s":"d21","g":"NC","x":84.1,"y":0.065},{"s":"d21","g":"NC","x":85.0,"y":0.04},{"s":"d21","g":"NC","x":86.0,"y":0.025},{"s":"d21","g":"NC","x":87.0,"y":0.015},
{"s":"d22","g":"NC","x":83.2,"y":0.125},{"s":"d22","g":"NC","x":83.9,"y":0.1},{"s":"d22","g":"NC","x":84.7,"y":0.07},{"s":"d22","g":"NC","x":85.6,"y":0.045},{"s":"d22","g":"NC","x":86.6,"y":0.025},{"s":"d22","g":"NC","x":87.6,"y":0.015},{"s":"d22","g":"NC","x":88.3,"y":0.008},
{"s":"d23","g":"NC","x":84.6,"y":0.14},{"s":"d23","g":"NC","x":85.3,"y":0.11},{"s":"d23","g":"NC","x":86.1,"y":0.07},{"s":"d23","g":"NC","x":87.0,"y":0.045},{"s":"d23","g":"NC","x":88.0,"y":0.03},{"s":"d23","g":"NC","x":89.0,"y":0.02},
{"s":"d24","g":"NC","x":85.0,"y":0.16},{"s":"d24","g":"NC","x":85.7,"y":0.12},{"s":"d24","g":"NC","x":86.5,"y":0.085},{"s":"d24","g":"NC","x":87.4,"y":0.05},{"s":"d24","g":"NC","x":88.4,"y":0.03},
{"s":"d25","g":"NC","x":85.9,"y":0.17},{"s":"d25","g":"NC","x":86.5,"y":0.13},{"s":"d25","g":"NC","x":87.3,"y":0.09},{"s":"d25","g":"NC","x":88.2,"y":0.06},{"s":"d25","g":"NC","x":89.2,"y":0.035},
{"s":"d26","g":"NC","x":86.8,"y":0.13},{"s":"d26","g":"NC","x":87.5,"y":0.1},{"s":"d26","g":"NC","x":88.3,"y":0.06},{"s":"d26","g":"NC","x":89.2,"y":0.035},{"s":"d26","g":"NC","x":90.2,"y":0.02},
{"s":"d27","g":"NC","x":87.9,"y":0.2},{"s":"d27","g":"NC","x":88.9,"y":0.15},{"s":"d27","g":"NC","x":89.5,"y":0.07},{"s":"d27","g":"NC","x":90.4,"y":0.055},
{"s":"d29","g":"NC","x":76.8,"y":0.22},{"s":"d29","g":"NC","x":77.6,"y":0.16},{"s":"d29","g":"NC","x":78.4,"y":0.11},{"s":"d29","g":"NC","x":79.3,"y":0.07},{"s":"d29","g":"NC","x":80.3,"y":0.04},{"s":"d29","g":"NC","x":81.3,"y":0.025},
{"s":"d30","g":"NC","x":73.0,"y":0.22},{"s":"d30","g":"NC","x":73.8,"y":0.17},{"s":"d30","g":"NC","x":74.6,"y":0.12},{"s":"d30","g":"NC","x":75.5,"y":0.08},{"s":"d30","g":"NC","x":76.5,"y":0.05},{"s":"d30","g":"NC","x":77.5,"y":0.03},
{"s":"d31","g":"NC","x":70.0,"y":0.12},{"s":"d31","g":"NC","x":70.8,"y":0.07},{"s":"d31","g":"NC","x":71.7,"y":0.04},{"s":"d31","g":"NC","x":72.7,"y":0.025},{"s":"d31","g":"NC","x":73.7,"y":0.015},
{"s":"d32","g":"NC","x":74.2,"y":0.1},{"s":"d32","g":"NC","x":74.9,"y":0.07},{"s":"d32","g":"NC","x":75.7,"y":0.045},{"s":"d32","g":"NC","x":76.6,"y":0.03},{"s":"d32","g":"NC","x":77.6,"y":0.018},{"s":"d32","g":"NC","x":78.6,"y":0.012},
{"s":"d33","g":"NC","x":79.8,"y":0.12},{"s":"d33","g":"NC","x":80.5,"y":0.09},{"s":"d33","g":"NC","x":81.3,"y":0.06},{"s":"d33","g":"NC","x":82.2,"y":0.04},{"s":"d33","g":"NC","x":83.2,"y":0.025},{"s":"d33","g":"NC","x":84.2,"y":0.015},
{"s":"d34","g":"NC","x":77.0,"y":0.08},{"s":"d34","g":"NC","x":77.8,"y":0.06},{"s":"d34","g":"NC","x":78.6,"y":0.04},{"s":"d34","g":"NC","x":79.5,"y":0.025},{"s":"d34","g":"NC","x":80.5,"y":0.012},
{"s":"e1","g":"NC","x":70.3,"y":0.17},
{"s":"e2","g":"NC","x":71.3,"y":0.2},
{"s":"e3","g":"NC","x":72.3,"y":0.21},
{"s":"e4","g":"NC","x":73.4,"y":0.21},
{"s":"e5","g":"NC","x":77.5,"y":0.215},
{"s":"e6","g":"NC","x":77.5,"y":0.19},
{"s":"e7","g":"NC","x":85.5,"y":0.18},
{"s":"e8","g":"NC","x":71.4,"y":0.19}
]
},
"hconcat": [
{
 "title": "CNN",
 "width": 783, "height": 582,
 "layer": [
  {"data": {"name": "cnn"},
   "mark": {"type": "line", "strokeWidth": 2.4, "opacity": 0.82, "point": {"filled": true, "size": 36, "opacity": 0.95}},
   "encoding": {
    "x": {"field": "x", "type": "quantitative", "scale": {"domain": [53, 97], "nice": false, "zero": false}, "axis": {"values": [55,60,65,70,75,80,85,90,95], "format": "d", "title": "Age"}},
    "y": {"field": "y", "type": "quantitative", "scale": {"domain": [-0.04, 1.045], "nice": false, "zero": false}, "axis": {"values": [0,0.2,0.4,0.6,0.8,1.0], "format": ".1f", "title": "Prediction"}},
    "color": {"field": "g", "type": "nominal", "scale": {"domain": ["NC","AD"], "range": ["#2ca02c","#ff7f0e"]}, "legend": {"title": null}},
    "detail": {"field": "s", "type": "nominal"}
   }},
  {"data": {"values": [{"x1": 55, "x2": 95, "t": 0.5}]},
   "mark": {"type": "rule", "color": "#1f77b4", "strokeDash": [3, 4], "strokeWidth": 2},
   "encoding": {"x": {"field": "x1", "type": "quantitative"}, "x2": {"field": "x2"}, "y": {"field": "t", "type": "quantitative"}}}
 ]
},
{
 "title": "CNN+RNN+LP+CL",
 "width": 781, "height": 582,
 "layer": [
  {"data": {"name": "full"},
   "mark": {"type": "line", "strokeWidth": 2.4, "opacity": 0.82, "point": {"filled": true, "size": 36, "opacity": 0.95}},
   "encoding": {
    "x": {"field": "x", "type": "quantitative", "scale": {"domain": [53, 97], "nice": false, "zero": false}, "axis": {"values": [55,60,65,70,75,80,85,90,95], "format": "d", "title": "Age"}},
    "y": {"field": "y", "type": "quantitative", "scale": {"domain": [-0.04, 1.045], "nice": false, "zero": false}, "axis": {"values": [0,0.2,0.4,0.6,0.8,1.0], "format": ".1f", "title": "Prediction"}},
    "color": {"field": "g", "type": "nominal", "scale": {"domain": ["NC","AD"], "range": ["#2ca02c","#ff7f0e"]}, "legend": {"title": null}},
    "detail": {"field": "s", "type": "nominal"}
   }},
  {"data": {"values": [{"x1": 55, "x2": 95, "t": 0.5}]},
   "mark": {"type": "rule", "color": "#1f77b4", "strokeDash": [3, 4], "strokeWidth": 2},
   "encoding": {"x": {"field": "x1", "type": "quantitative"}, "x2": {"field": "x2"}, "y": {"field": "t", "type": "quantitative"}}}
 ]
}
]
}
